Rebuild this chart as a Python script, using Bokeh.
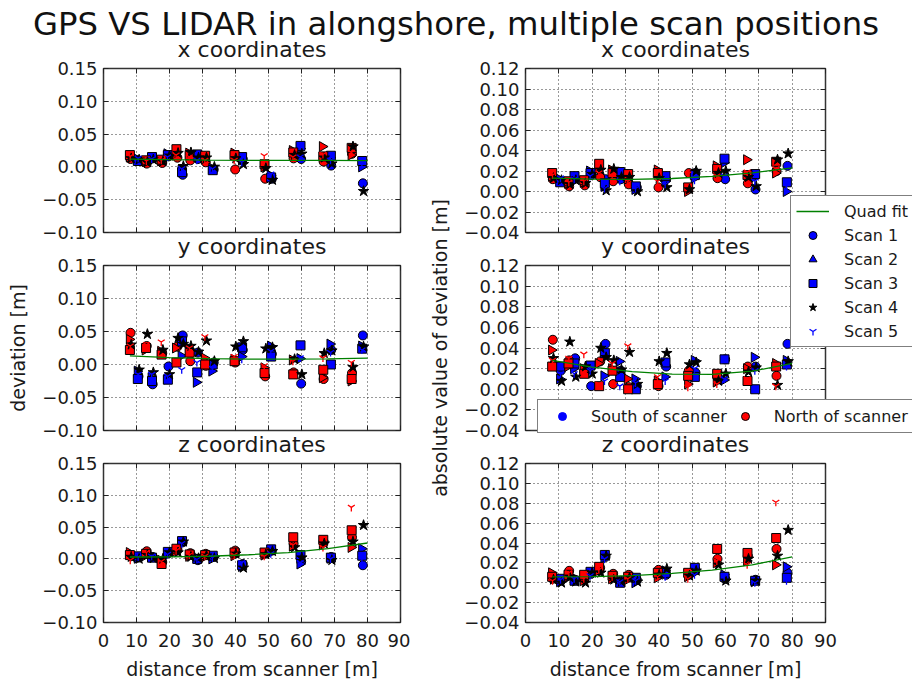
import numpy as np
from bokeh.plotting import figure
from bokeh.layouts import row, column
from bokeh.models import (Div, Legend, LegendItem, LinearAxis, FixedTicker,
                          CustomJSTickFormatter, Range1d, Title)
from bokeh.embed import file_html
from bokeh.resources import INLINE

FONT = "DejaVu Sans"
BLUE = "#0000ff"
RED = "#ff0000"
GREEN = "#008000"

# side of the scanner for each target (targets ordered by distance)
sides = ["North", "South"] * 11

# distance from scanner [m] of each target, one list per scan position
dist_scan1 = [8.2, 10.6, 13.1, 14.9, 17.8, 19.7, 22.4, 24.0, 26.3, 28.6, 31.0, 33.4, 39.9, 42.2, 49.0, 51.0, 57.6, 59.9, 66.7, 69.0, 75.3, 78.6]
dist_scan2 = [7.8, 10.2, 12.6, 14.4, 17.3, 19.2, 21.8, 23.5, 25.8, 28.1, 30.5, 32.8, 39.5, 41.8, 48.6, 50.6, 57.2, 59.5, 66.3, 68.6, 75.0, 78.2]
dist_scan3 = [8.0, 10.4, 12.9, 14.7, 17.6, 19.5, 22.1, 23.8, 26.1, 28.4, 30.8, 33.1, 39.7, 42.0, 48.8, 50.8, 57.5, 59.7, 66.6, 68.9, 75.2, 78.4]
dist_scan4 = [8.4, 10.8, 13.3, 15.1, 18.0, 20.0, 22.6, 24.2, 26.5, 28.8, 31.2, 33.6, 40.1, 42.4, 49.2, 51.2, 57.9, 60.1, 66.9, 69.2, 75.6, 78.8]
dist_scan5 = [8.1, 10.5, 13.0, 14.6, 17.5, 19.4, 22.0, 23.7, 26.0, 28.3, 30.7, 33.0, 39.6, 41.9, 48.7, 50.7, 57.4, 59.6, 66.5, 68.8, 75.1, 78.3]
dist_scans = [dist_scan1, dist_scan2, dist_scan3, dist_scan4, dist_scan5]

# GPS - LIDAR deviation [m]; one row per target, columns = scan 1..5
dev_x = [
    [0.012, 0.015, 0.018, 0.013, 0.016],
    [0.010, 0.012, 0.009, 0.011, 0.013],
    [0.005, 0.008, 0.010, 0.007, 0.009],
    [0.013, 0.010, 0.015, 0.011, 0.012],
    [0.006, 0.009, 0.011, 0.008, 0.010],
    [0.016, 0.020, 0.018, 0.017, 0.015],
    [0.014, 0.024, 0.027, 0.021, 0.018],
    [-0.012, -0.005, -0.008, 0.001, -0.003],
    [0.010, 0.021, 0.018, 0.022, 0.015],
    [0.012, 0.016, 0.019, 0.014, 0.010],
    [0.007, 0.012, 0.017, 0.014, 0.010],
    [-0.004, -0.002, -0.005, 0.000, -0.003],
    [-0.004, 0.021, 0.018, 0.013, 0.010],
    [0.012, 0.010, 0.015, 0.004, 0.007],
    [-0.018, 0.000, 0.004, -0.002, 0.017],
    [-0.018, -0.013, -0.016, -0.020, -0.011],
    [0.013, 0.025, 0.022, 0.018, 0.015],
    [0.012, 0.028, 0.032, 0.020, 0.015],
    [0.008, 0.031, 0.016, 0.014, 0.019],
    [0.002, 0.014, 0.017, 0.005, 0.010],
    [0.020, 0.018, 0.029, 0.031, 0.022],
    [-0.025, 0.000, 0.009, -0.037, 0.005],
]
dev_y = [
    [0.048, 0.038, 0.022, 0.030, 0.028],
    [-0.018, -0.010, -0.022, -0.008, -0.015],
    [0.028, 0.022, 0.025, 0.046, 0.030],
    [-0.030, -0.020, -0.025, -0.012, -0.015],
    [0.017, 0.020, 0.015, 0.022, 0.034],
    [-0.003, -0.022, -0.023, -0.015, -0.018],
    [0.027, 0.025, 0.003, 0.040, 0.005],
    [0.044, 0.013, 0.035, 0.031, -0.008],
    [0.005, 0.020, 0.018, 0.028, 0.025],
    [0.018, -0.027, -0.012, 0.019, 0.003],
    [-0.002, 0.010, 0.000, 0.036, 0.042],
    [0.003, -0.010, 0.000, 0.005, -0.006],
    [0.003, 0.008, 0.005, 0.027, 0.012],
    [0.022, 0.012, 0.026, 0.035, 0.008],
    [-0.018, -0.005, -0.013, 0.024, -0.002],
    [0.016, 0.028, 0.012, 0.026, 0.020],
    [-0.012, 0.007, -0.015, 0.008, 0.005],
    [-0.029, 0.009, 0.029, -0.015, 0.010],
    [-0.022, -0.020, -0.008, 0.017, 0.010],
    [0.022, 0.031, 0.000, 0.021, 0.018],
    [-0.013, -0.025, -0.022, -0.004, 0.003],
    [0.044, 0.028, 0.024, 0.027, 0.022],
]
dev_z = [
    [0.004, 0.010, 0.006, 0.003, -0.002],
    [0.002, 0.001, 0.004, 0.000, 0.003],
    [0.012, 0.005, 0.008, 0.006, 0.010],
    [0.003, 0.005, 0.002, 0.001, 0.004],
    [-0.005, -0.002, -0.008, 0.000, -0.004],
    [0.009, 0.008, 0.011, 0.010, 0.007],
    [0.015, 0.012, 0.016, 0.010, 0.013],
    [0.026, 0.025, 0.028, 0.027, 0.024],
    [0.009, 0.004, 0.007, 0.003, 0.006],
    [-0.002, 0.002, 0.000, 0.001, -0.001],
    [0.008, 0.003, 0.006, 0.005, 0.004],
    [0.003, 0.000, 0.005, 0.001, 0.002],
    [0.013, 0.005, 0.010, 0.008, 0.006],
    [-0.008, -0.012, -0.010, -0.014, -0.006],
    [0.008, 0.006, 0.010, 0.007, 0.004],
    [0.013, 0.010, 0.015, 0.012, 0.008],
    [0.024, 0.020, 0.034, 0.018, 0.022],
    [-0.004, -0.008, 0.006, 0.002, -0.006],
    [0.027, 0.022, 0.030, 0.024, 0.018],
    [0.003, 0.001, 0.002, -0.002, 0.000],
    [0.034, 0.018, 0.045, 0.027, 0.081],
    [-0.010, 0.016, 0.005, 0.053, 0.002],
]

# quadratic fit curves, sampled along the distance axis
fit_dist = [8, 20, 32, 44, 56, 68, 80]
fit_x = [0.0120, 0.0110, 0.0104, 0.0100, 0.0099, 0.0098, 0.0097]
fit_y = [0.0130, 0.0105, 0.0089, 0.0082, 0.0080, 0.0085, 0.0097]
fit_z = [0.0030, 0.0031, 0.0042, 0.0065, 0.0100, 0.0160, 0.0250]
fit_abs_x = [0.0130, 0.0121, 0.0119, 0.0127, 0.0148, 0.0182, 0.0230]
fit_abs_y = [0.0280, 0.0215, 0.0170, 0.0146, 0.0144, 0.0175, 0.0250]
fit_abs_z = [0.0060, 0.0061, 0.0072, 0.0094, 0.0128, 0.0180, 0.0260]

scan_labels = ["Scan 1", "Scan 2", "Scan 3", "Scan 4", "Scan 5"]
side_labels = ["South of scanner", "North of scanner"]
x_ticks = [0, 10, 20, 30, 40, 50, 60, 70, 80, 90]
dev_ticks = [-0.10, -0.05, 0.0, 0.05, 0.10, 0.15]
abs_ticks = [-0.04, -0.02, 0.0, 0.02, 0.04, 0.06, 0.08, 0.10, 0.12]

MARKERS = [("circle", 9), ("triangle", 10), ("square", 9), ("star", 11), ("y", 8)]

minus_fmt = CustomJSTickFormatter(code="""
    const a = Math.abs(tick).toFixed(2);
    return (tick < -1e-9) ? '\u2212' + a : a;
""")


def marker_style(k, color):
    marker, size = MARKERS[k]
    kw = dict(marker=marker, size=size)
    if marker == "y":
        kw.update(line_color=color, fill_color=None, line_width=1.3)
    elif marker == "star":
        kw.update(fill_color="black", line_color="black", line_width=1)
    else:
        kw.update(fill_color=color, line_color="black", line_width=1)
    if marker == "triangle":
        kw["angle"] = -np.pi / 2
    return kw


def silence_labels(ax):
    # tick marks only: labels are not drawn
    ax.major_label_text_font_size = "1px"
    ax.major_label_text_color = None
    ax.major_label_standoff = 0


def tick_only_axis(ticks, tick_in=5, tick_out=0, color="#222"):
    ax = LinearAxis(ticker=FixedTicker(ticks=ticks),
                    major_tick_in=tick_in, major_tick_out=tick_out,
                    minor_tick_in=0, minor_tick_out=0,
                    axis_line_color=None, major_tick_line_color=color)
    silence_labels(ax)
    return ax


def panel(title, values, fit_vals, ylo, yhi, yticks, geom, show_x, ylabel=None):
    w, h, left, right, top, bottom = geom
    p = figure(width=w, height=h, x_range=Range1d(0, 90), y_range=Range1d(ylo, yhi),
               output_backend="svg", toolbar_location=None,
               min_border_left=left, min_border_right=right,
               min_border_top=top, min_border_bottom=bottom,
               title=None)
    p.border_fill_color = None
    p.background_fill_color = "white"
    p.outline_line_color = "#333333"
    p.outline_line_width = 1.5

    p.xaxis.ticker = FixedTicker(ticks=x_ticks)
    p.yaxis.ticker = FixedTicker(ticks=yticks)
    p.yaxis.formatter = minus_fmt
    for ax in (p.xaxis[0], p.yaxis[0]):
        ax.axis_line_color = None
        ax.major_tick_in = 5
        ax.major_tick_out = 0
        ax.minor_tick_in = 0
        ax.minor_tick_out = 0
        ax.major_tick_line_color = "#222"
        ax.major_label_text_font = FONT
        ax.major_label_text_font_size = "18px"
        ax.major_label_text_color = "#1a1a1a"
        ax.axis_label_text_font = FONT
        ax.axis_label_text_font_size = "19px"
        ax.axis_label_text_font_style = "normal"
        ax.axis_label_text_color = "#1a1a1a"
    p.yaxis.major_label_standoff = 6
    if show_x:
        p.xaxis.major_label_standoff = 11
        p.xaxis.axis_label = "distance from scanner [m]"
        p.xaxis.axis_label_standoff = 8
    else:
        silence_labels(p.xaxis[0])
    if ylabel:
        p.yaxis.axis_label = ylabel
        p.yaxis.axis_label_standoff = 10
    # top ticks next to the frame, a blank spacer, then the subplot title
    p.add_layout(tick_only_axis(x_ticks), "above")
    p.add_layout(tick_only_axis(x_ticks, tick_in=0, tick_out=7, color=None), "above")
    p.add_layout(tick_only_axis(yticks), "right")
    p.add_layout(Title(text=title, align="center", standoff=0,
                       text_font=FONT, text_font_size="22px", text_font_style="normal",
                       text_color="#1a1a1a"), "above")

    p.grid.grid_line_color = "black"
    p.grid.grid_line_dash = "1 3"
    p.grid.grid_line_width = 1
    p.grid.grid_line_alpha = 0.8

    vals = np.asarray(values)
    side_arr = np.asarray(sides)
    for k in range(5):
        d = np.asarray(dist_scans[k])
        for side, color in (("South", BLUE), ("North", RED)):
            m = side_arr == side
            p.scatter(x=d[m], y=vals[m, k], **marker_style(k, color))
    p.line(fit_dist, fit_vals, line_color=GREEN, line_width=1.3)
    return p


COL_L = (410, 103, 10)
COL_R = (502, 115, 87)
ROWS = [(200, 30, 6), (198, 27, 6), (246, 27, 56)]
SPILL = 14  # canvases reach below their slot so the lowest tick label is not cut
HEADROOM = 15  # and above it, so the subplot title never squeezes the frame


def panel_at(col, r, title, values, fit_vals, ylo, yhi, yticks, show_x,
             ylabel=None, up=0, down=0):
    w, left, right = col
    h, top, bottom = ROWS[r]
    up += HEADROOM
    if r < 2:
        down += SPILL
    geom = (w, h + up + down, left, right, top + up, bottom + down)
    p = panel(title, values, fit_vals, ylo, yhi, yticks, geom, show_x, ylabel)
    p.margin = (-up, 0, -down, 0)
    return p


lx = panel_at(COL_L, 0, "x coordinates", dev_x, fit_x, -0.10, 0.15, dev_ticks, False)
ly = panel_at(COL_L, 1, "y coordinates", dev_y, fit_y, -0.10, 0.15, dev_ticks, False,
              ylabel="deviation [m]")
lz = panel_at(COL_L, 2, "z coordinates", dev_z, fit_z, -0.10, 0.15, dev_ticks, True)

abs_x = np.abs(np.asarray(dev_x))
abs_y = np.abs(np.asarray(dev_y))
abs_z = np.abs(np.asarray(dev_z))

rx = panel_at(COL_R, 0, "x coordinates", abs_x, fit_abs_x, -0.04, 0.12, abs_ticks, False)
# the long axis label of the middle-right panel runs past its slot
ry = panel_at(COL_R, 1, "y coordinates", abs_y, fit_abs_y, -0.04, 0.12, abs_ticks, False,
              ylabel="absolute value of deviation [m]", up=30, down=75)
rz = panel_at(COL_R, 2, "z coordinates", abs_z, fit_abs_z, -0.04, 0.12, abs_ticks, True)

title = Div(text=("<div style=\"width:912px;text-align:center;font-family:'DejaVu Sans';"
                  "font-size:32.3px;line-height:32px;padding-top:8px;color:#111;\">"
                  "GPS VS LIDAR in alongshore, multiple scan positions</div>"),
            width=912, height=38, margin=0)

grid = row(column(lx, ly, lz), column(rx, ry, rz))

# transparent page-sized overlay carrying both legends above the panels
PAGE_W, PAGE_H = 912, 682
ov = figure(width=PAGE_W, height=PAGE_H, x_range=Range1d(0, 1), y_range=Range1d(0, 1),
            x_axis_type=None, y_axis_type=None, output_backend="svg",
            toolbar_location=None, min_border=0)
ov.outline_line_color = None
ov.background_fill_color = None
ov.border_fill_color = None
ov.margin = (-PAGE_H, 0, 0, 0)

# legend keys: styled renderers holding a single blank (NaN) point
blank = dict(x=[np.nan], y=[np.nan])
key_line = ov.line(line_color=GREEN, line_width=1.3, **blank)
scan_items = [LegendItem(label="Quad fit", renderers=[key_line])]
for k in range(5):
    key = ov.scatter(**blank, **marker_style(k, BLUE))
    scan_items.append(LegendItem(label=scan_labels[k], renderers=[key]))

south_key = ov.scatter(marker="circle", size=10, fill_color=BLUE, line_color=BLUE, **blank)
north_key = ov.scatter(marker="circle", size=10, fill_color=RED, line_color="black", **blank)

scan_legend = Legend(items=scan_items, location=(790, 335), margin=0,
                     label_text_font=FONT, label_text_font_size="16px",
                     label_text_color="#1a1a1a",
                     glyph_width=33, glyph_height=20, label_standoff=15,
                     padding=5, spacing=4,
                     border_line_color="black", border_line_width=1,
                     background_fill_color="white", background_fill_alpha=1)
ov.add_layout(scan_legend)

side_legend = Legend(items=[LegendItem(label=side_labels[0], renderers=[south_key]),
                            LegendItem(label=side_labels[1], renderers=[north_key])],
                     orientation="horizontal", location=(537, 249), margin=0,
                     label_text_font=FONT, label_text_font_size="16px",
                     label_text_color="#1a1a1a",
                     glyph_width=36, glyph_height=20, label_standoff=11,
                     padding=6, spacing=0,
                     border_line_color="black", border_line_width=1,
                     background_fill_color="white", background_fill_alpha=1)
ov.add_layout(side_legend)

layout = column(title, grid, ov)

open("out.html", "w").write(file_html(layout, INLINE))
